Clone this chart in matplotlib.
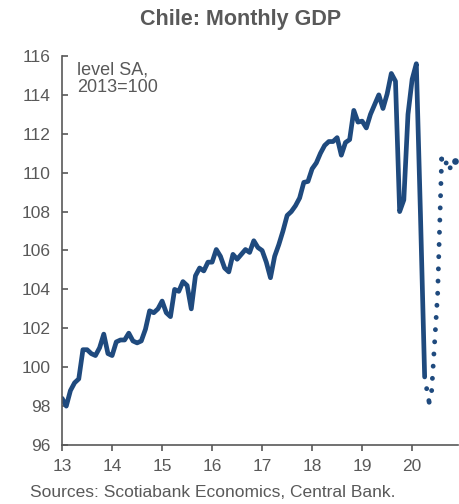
import matplotlib
matplotlib.use("Agg")
import matplotlib.pyplot as plt

plt.rcParams['font.family'] = ['Liberation Sans', 'DejaVu Sans']

# monthly GDP index, Jan 2013 .. Apr 2020 (level SA, 2013=100)
gdp_monthly = [
    98.4, 98.0, 98.8, 99.2, 99.4, 100.9, 100.9, 100.7, 100.6, 101.0, 101.7, 100.7,
    100.6, 101.3, 101.4, 101.4, 101.75, 101.35, 101.25, 101.35, 101.95, 102.9, 102.8, 103.0,
    103.4, 102.8, 102.6, 104.0, 103.9, 104.4, 104.2, 103.0, 104.7, 105.1, 104.95, 105.4,
    105.4, 106.05, 105.7, 105.1, 104.9, 105.8, 105.55, 105.8, 106.05, 105.9, 106.5, 106.15,
    106.0, 105.4, 104.6, 105.7, 106.3, 107.0, 107.8, 108.0, 108.3, 108.7, 109.5, 109.55,
    110.2, 110.5, 111.0, 111.4, 111.6, 111.6, 111.8, 110.9, 111.55, 111.7, 113.2, 112.6,
    112.65, 112.3, 113.0, 113.5, 114.0, 113.3, 114.05, 115.1, 114.7, 108.0, 108.6, 113.0,
    114.8, 115.6, 107.8, 99.5,
]
start_year = 13

# dotted tail (estimate / nowcast)
tail_x = [20.29, 20.34, 20.39, 20.51, 20.59, 20.68, 20.76, 20.85]
tail_y = [98.9, 98.2, 98.8, 103.8, 110.7, 110.5, 110.25, 110.6]

year_ticks = [13, 14, 15, 16, 17, 18, 19, 20]
y_ticks = [96, 98, 100, 102, 104, 106, 108, 110, 112, 114, 116]

blue = '#1F4A7E'
grey = '#595959'

months_x = [start_year + i / 12 for i in range(len(gdp_monthly))]

fig = plt.figure(figsize=(4.6, 5.04), dpi=100)
ax = fig.add_axes([0.135, 0.117, 0.861, 0.772])

ax.plot(months_x, gdp_monthly, color=blue, lw=3.4, solid_joinstyle='round', solid_capstyle='round')
# dotted pattern restarts at every point, like the original chart
for i in range(len(tail_x) - 1):
    ax.plot(tail_x[i:i + 2], tail_y[i:i + 2], color=blue, lw=3.5,
            linestyle=(0, (0.01, 2.5)), dash_capstyle='round')
ax.plot(tail_x[-1:], tail_y[-1:], 'o', color=blue, ms=4.8, mew=0)

ax.set_xlim(13, 20.92)
ax.set_ylim(96, 116)
ax.set_xticks(year_ticks)
ax.set_xticklabels([str(t) for t in year_ticks])
ax.set_yticks(y_ticks)

for s in ['top', 'right']:
    ax.spines[s].set_visible(False)
for s in ['left', 'bottom']:
    ax.spines[s].set_color(grey)
    ax.spines[s].set_linewidth(1.2)

ax.tick_params(axis='x', direction='out', length=4, width=1.2, color=grey,
               labelcolor=grey, labelsize=12.5, pad=6)
ax.tick_params(axis='y', direction='in', length=4, width=1.2, color=grey,
               labelcolor=grey, labelsize=12.5, pad=8)

ax.text(0.037, 0.985, 'level SA,\n2013=100', transform=ax.transAxes, ha='left', va='top',
        fontsize=13, color=grey, linespacing=1.05)

fig.text(0.522, 0.962, 'Chile: Monthly GDP', ha='center', va='center',
         fontsize=15.5, fontweight='bold', color=grey)
fig.text(0.065, 0.022, 'Sources: Scotiabank Economics, Central Bank.', ha='left', va='center',
         fontsize=12.5, color=grey)

fig.savefig('out.png', dpi=100)
